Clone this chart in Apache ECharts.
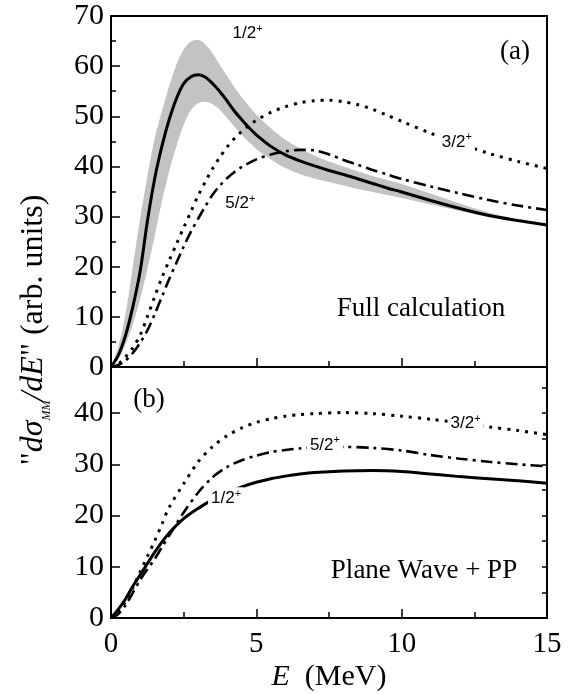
<!DOCTYPE html>
<html><head><meta charset="utf-8">
<script src="https://cdn.jsdelivr.net/npm/echarts@6/dist/echarts.min.js"></script>
<style>html,body{margin:0;padding:0;background:#fff}#c{width:576px;height:694px}</style>
</head><body><div id="c"></div>
<script>
// ---- Panel (a): Full calculation ----
const E_TOP = [0,0.25,0.5,0.75,1,1.25,1.5,1.75,2,2.25,2.5,2.75,3,3.25,3.5,3.75,4,4.25,4.5,4.75,5,5.5,6,6.5,7,7.5,8,8.5,9,9.5,10,11,12,13,14,15];
const HALF_TOP  = [0,2.3,6.3,12,19,29,37.5,44,49.3,53.5,56.5,57.9,58.3,57.8,56.5,54.9,53,51,49.3,47.7,46.3,44,42.3,41.1,40.1,39.2,38.4,37.5,36.6,35.7,34.9,33.2,31.6,30.2,29.2,28.3];
const UPPER_TOP = [0,4,10.5,20,29.5,38,45.5,51,56,60.3,63.3,64.9,65.2,64.3,62.5,60.2,58,55.8,53.8,52,50.3,47.6,45.3,43.6,42.2,41,40,39,38.1,37.3,36.5,34.6,32.6,30.8,29.4,28.4];
const LOWER_TOP = [0,1.6,4.5,8.5,13.5,19.5,26,33,39,44,48.3,51.2,52.6,52.9,52.4,51.3,49.6,47.9,46.3,44.8,43.5,41.4,39.7,38.5,37.6,36.9,36.2,35.5,34.9,34.3,33.7,32.4,31.1,29.9,29,28.2];
const THREE_TOP = [0,0.6,2,3.8,6.3,10,14,17.8,21.2,24.5,27.8,31,34.2,37,39.6,41.9,43.9,45.6,47,48.2,49.2,50.8,51.9,52.7,53.1,53.2,52.9,52.3,51.4,50.2,49,46.6,44.5,42.6,41,39.6];
const FIVE_TOP  = [0,0.4,1.3,2.8,4.8,7.3,10.5,14,17.5,20.8,24,27,29.6,32.1,34.4,36.2,37.7,38.9,39.9,40.7,41.4,42.4,43,43.3,43.2,42.4,41.3,40.3,39.3,38.4,37.5,36,34.6,33.3,32.2,31.3];
const LABELS_TOP = [['1/2', 4.7, 66.6], ['3/2', 11.9, 44.9], ['5/2', 4.45, 32.7]];

// ---- Panel (b): Plane Wave + PP ----
const E_BOT = [0,0.25,0.5,0.75,1,1.25,1.5,1.75,2,2.5,3,3.5,4,4.5,5,5.5,6,6.5,7,8,9,10,11,12,13,14,15];
const HALF_BOT  = [0,1.7,3.7,6.2,8.4,10.6,12.8,14.8,16.6,19.4,21.4,23.1,24.5,25.6,26.5,27.2,27.7,28.1,28.4,28.7,28.8,28.6,28.1,27.6,27.2,26.8,26.3];
const THREE_BOT = [0,1.2,3.2,5.9,9,12,15,18.3,21.6,26.2,30.5,33.5,35.6,37.1,38.2,38.9,39.4,39.7,39.9,40.1,39.9,39.4,38.8,38.1,37.3,36.6,35.8];
const FIVE_BOT  = [0,0.8,2.5,4.9,7.4,9.5,11.5,13.8,16.1,20.6,24.5,27.5,29.5,30.8,31.7,32.4,32.8,33.1,33.3,33.4,33.2,32.7,31.8,31.1,30.5,30,29.6];
const LABELS_BOT = [['3/2', 12.2, 38], ['5/2', 7.36, 33.8], ['1/2', 3.96, 23.4]];

const Y_TOP_MAX = 70, Y_BOT_MAX = 49;

const zip = (xs, ys) => xs.map((x, i) => [x, ys[i]]);
const SERIF = "'Liberation Serif','Times New Roman',serif";
const SANS = "'Liberation Sans',Arial,sans-serif";

const solid = {type: 'solid', width: 3, color: '#000'};
const dotted = {type: [3, 6], width: 3, color: '#000'};
const dashdot = {type: [12, 5, 3, 5], width: 2.6, color: '#000'};

function lineSeries(xi, yi, data, style, z) {
  return {type: 'line', xAxisIndex: xi, yAxisIndex: yi, data: data, symbol: 'none',
    smooth: 0.3, lineStyle: style, z: z || 3, silent: true, animation: false};
}

const axisLine = {show: true, lineStyle: {color: '#000', width: 2}};
const xBase = {type: 'value', min: 0, max: 15, interval: 5, axisLine: axisLine, z: 20,
  axisTick: {show: true, inside: true, length: 9, lineStyle: {color: '#000', width: 1.5}},
  minorTick: {show: true, splitNumber: 2, length: 6, lineStyle: {color: '#000', width: 1.5}},
  splitLine: {show: false}, minorSplitLine: {show: false}};
const yLabel = {fontSize: 30, fontFamily: SERIF, color: '#000', margin: 7};

const chart = echarts.init(document.getElementById('c'), null, {renderer: 'canvas'});
const staticGraphics = [
  {type: 'text', x: 515, y: 52, z: 30, style: {text: '(a)', fontSize: 27, fontFamily: SERIF, fill: '#000', align: 'center', verticalAlign: 'middle'}},
  {type: 'text', x: 421, y: 309, z: 30, style: {text: 'Full calculation', fontSize: 27, fontFamily: SERIF, fill: '#000', align: 'center', verticalAlign: 'middle'}},
  {type: 'text', x: 149, y: 400, z: 30, style: {text: '(b)', fontSize: 27, fontFamily: SERIF, fill: '#000', align: 'center', verticalAlign: 'middle'}},
  {type: 'text', x: 424, y: 571, z: 30, style: {text: 'Plane Wave + PP', fontSize: 27, fontFamily: SERIF, fill: '#000', align: 'center', verticalAlign: 'middle'}},
  {type: 'text', x: 34, y: 330, rotation: Math.PI / 2, z: 30, style: {
    text: '{q|"}{i|dσ}{s|MM}{i|/dE}{q|" (arb. units)}',
    align: 'center', verticalAlign: 'middle',
    rich: {
      q: {fontSize: 32, fontFamily: SERIF, fill: '#000', lineHeight: 38},
      i: {fontSize: 32, fontFamily: SERIF, fontStyle: 'italic', fill: '#000', lineHeight: 38},
      s: {fontSize: 12, fontFamily: SERIF, fontStyle: 'italic', fill: '#000', lineHeight: 13, verticalAlign: 'bottom'}
    }}}
];
chart.setOption({
  animation: false,
  backgroundColor: '#fff',
  grid: [
    {left: 111, top: 16, width: 436, height: 351, show: true, borderColor: '#000', borderWidth: 2, backgroundColor: 'transparent', z: 20},
    {left: 111, top: 367, width: 436, height: 251, show: true, borderColor: '#000', borderWidth: 2, backgroundColor: 'transparent', z: 20}
  ],
  xAxis: [
    Object.assign({}, xBase, {gridIndex: 0, axisLabel: {show: false}}),
    Object.assign({}, xBase, {gridIndex: 1,
      axisLabel: {show: true, fontSize: 29, fontFamily: SERIF, color: '#000', margin: 12},
      name: '{i|E}{n|  (MeV)}', nameLocation: 'middle', nameGap: 44,
      nameTextStyle: {rich: {
        i: {fontSize: 30, fontFamily: SERIF, fontStyle: 'italic', color: '#000'},
        n: {fontSize: 30, fontFamily: SERIF, color: '#000'}}}})
  ],
  yAxis: [
    {type: 'value', gridIndex: 0, min: 0, max: Y_TOP_MAX, interval: 10, axisLine: axisLine, z: 20,
      axisTick: {show: true, inside: true, length: 9, lineStyle: {color: '#000', width: 1.5}},
      minorTick: {show: true, splitNumber: 2, length: 5, lineStyle: {color: '#000', width: 1.5}},
      splitLine: {show: false}, minorSplitLine: {show: false}, axisLabel: yLabel},
    {type: 'value', gridIndex: 1, min: 0, max: Y_BOT_MAX, interval: 10, axisLine: axisLine, z: 20,
      axisTick: {show: true, inside: true, length: 9, lineStyle: {color: '#000', width: 1.5}},
      splitLine: {show: false},
      axisLabel: Object.assign({}, yLabel, {formatter: v => (v % 10 === 0 ? String(v) : '')})},
    {type: 'value', gridIndex: 1, min: 0, max: Y_BOT_MAX, interval: 5, axisLine: {show: false}, z: 20,
      axisTick: {show: true, inside: true, length: 5, lineStyle: {color: '#000', width: 1.5}},
      splitLine: {show: false}, axisLabel: {show: false}}
  ],
  series: [
    // grey uncertainty band: upper envelope filled grey, lower envelope filled white over it
    Object.assign(lineSeries(0, 0, zip(E_TOP, UPPER_TOP), {opacity: 0}, 1),
      {areaStyle: {color: '#c3c3c3', opacity: 1}}),
    Object.assign(lineSeries(0, 0, zip(E_TOP, LOWER_TOP), {opacity: 0}, 2),
      {areaStyle: {color: '#ffffff', opacity: 1}}),
    lineSeries(0, 0, zip(E_TOP, THREE_TOP), dotted),
    lineSeries(0, 0, zip(E_TOP, FIVE_TOP), dashdot),
    lineSeries(0, 0, zip(E_TOP, HALF_TOP), solid, 4),
    lineSeries(1, 1, zip(E_BOT, THREE_BOT), dotted),
    lineSeries(1, 1, zip(E_BOT, FIVE_BOT), dashdot),
    lineSeries(1, 1, zip(E_BOT, HALF_BOT), solid, 4)
  ],
  graphic: staticGraphics
});

// curve labels, placed through the axes' own coordinate conversion
function curveLabels(gridIndex, labels) {
  return labels.map(l => {
    const p = chart.convertToPixel({gridIndex: gridIndex}, [l[1], l[2]]);
    return {type: 'text', x: p[0], y: p[1], z: 40, style: {
      text: '{n|' + l[0] + '}{s|+}', align: 'center', verticalAlign: 'middle',
      backgroundColor: '#fff', padding: [1, 3],
      rich: {
        n: {fontSize: 17, fontFamily: SANS, fill: '#000', lineHeight: 20},
        s: {fontSize: 11, fontFamily: SANS, fill: '#000', lineHeight: 12, verticalAlign: 'top'}
      }}};
  });
}
chart.setOption({graphic: staticGraphics.concat(curveLabels(0, LABELS_TOP), curveLabels(1, LABELS_BOT))});
</script></body></html>
